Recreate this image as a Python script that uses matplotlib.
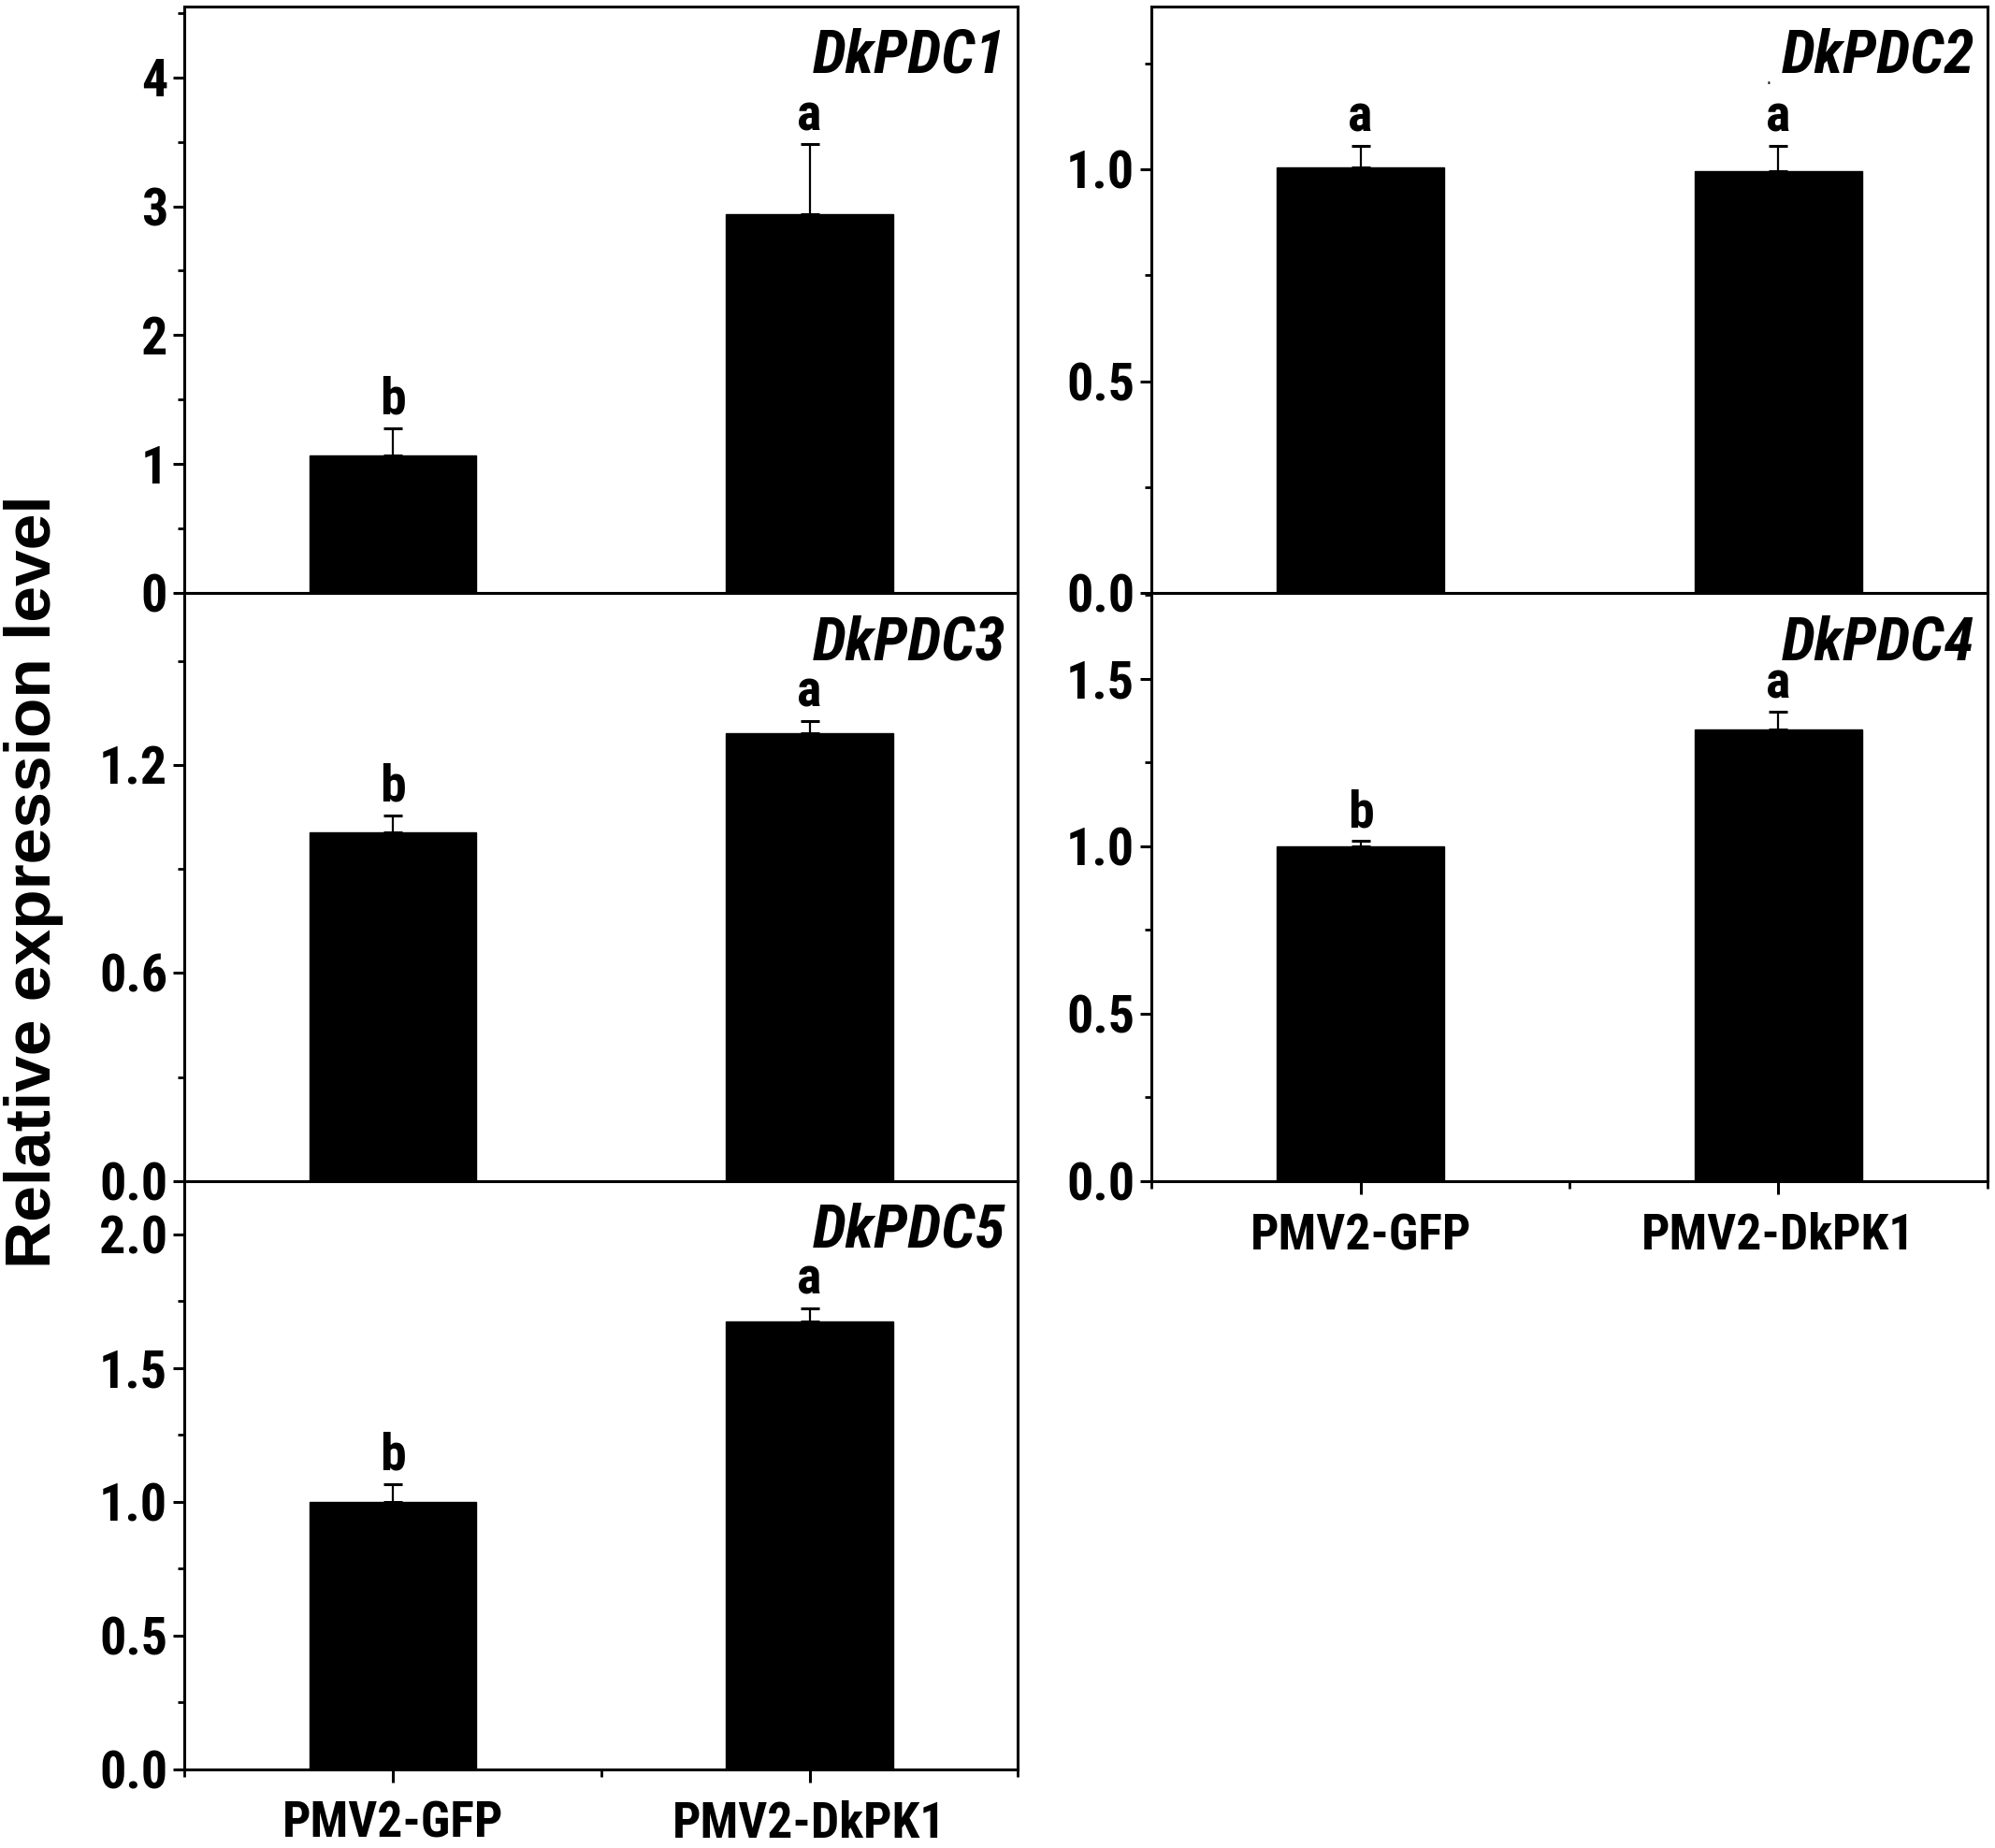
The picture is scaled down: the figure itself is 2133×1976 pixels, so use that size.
import matplotlib
matplotlib.use("Agg")
import matplotlib.pyplot as plt
from matplotlib.ticker import MultipleLocator, FixedLocator
from matplotlib import font_manager
from matplotlib.font_manager import FontProperties

# ---------------- data ----------------
categories = ["PMV2-GFP", "PMV2-DkPK1"]
genes = ["DkPDC1", "DkPDC2", "DkPDC3", "DkPDC4", "DkPDC5"]

pdc1_mean = [1.07, 2.94]
pdc1_err = [0.21, 0.54]
pdc1_sig = ["b", "a"]

pdc2_mean = [1.005, 0.995]
pdc2_err = [0.05, 0.06]
pdc2_sig = ["a", "a"]

pdc3_mean = [1.005, 1.292]
pdc3_err = [0.05, 0.035]
pdc3_sig = ["b", "a"]

pdc4_mean = [1.0, 1.348]
pdc4_err = [0.015, 0.052]
pdc4_sig = ["b", "a"]

pdc5_mean = [1.0, 1.676]
pdc5_err = [0.065, 0.047]
pdc5_sig = ["b", "a"]

ylims = {"DkPDC1": 4.55, "DkPDC2": 1.385, "DkPDC3": 1.695, "DkPDC4": 1.755, "DkPDC5": 2.2}
ymajor = {"DkPDC1": 1, "DkPDC2": 0.5, "DkPDC3": 0.6, "DkPDC4": 0.5, "DkPDC5": 0.5}
ymajor_fmt = {"DkPDC1": "{:.0f}", "DkPDC2": "{:.1f}", "DkPDC3": "{:.1f}", "DkPDC4": "{:.1f}", "DkPDC5": "{:.1f}"}

ylabel = "Relative expression level"

# ---------------- fonts ----------------
def find_condensed(italic):
    best = None
    for f in font_manager.fontManager.ttflist:
        key = (f.name + " " + f.fname).lower()
        cond = ("narrow" in key or "condensed" in key or
                f.stretch in ("condensed", "semi-condensed", "extra-condensed", "ultra-condensed"))
        if not cond:
            continue
        w = f.weight if isinstance(f.weight, int) else (700 if "bold" in str(f.weight) else 400)
        if w < 600:
            continue
        is_it = f.style in ("italic", "oblique")
        if is_it != italic:
            continue
        score = 0
        if "liberation" in key:
            score += 3
        if "roboto" in key:
            score += 2
        if best is None or score > best[0]:
            best = (score, f.fname)
    return best[1] if best else None

p_bold = find_condensed(False)
p_bi = find_condensed(True)
CONDENSED = p_bold is not None


def fp(size, italic=False):
    if italic and p_bi:
        return FontProperties(fname=p_bi, size=size)
    if not italic and p_bold:
        return FontProperties(fname=p_bold, size=size)
    return FontProperties(family=["Liberation Sans", "DejaVu Sans"], weight="bold",
                          style="italic" if italic else "normal", size=size)

k = 1.12 if CONDENSED else 1.0
TICK = 36 * k
XT = 34.5 * k
LET = 36 * k
GENE = 42 * k

# ---------------- figure ----------------
fig = plt.figure(figsize=(21.33, 19.76), dpi=100)

Lx0, Lx1 = 0.0925, 0.5102
Rx0, Rx1 = 0.5772, 0.9962
yb = [0.9966, 0.679, 0.3609, 0.0427]

panels = [
    ("DkPDC1", pdc1_mean, pdc1_err, pdc1_sig, [Lx0, yb[1], Lx1 - Lx0, yb[0] - yb[1]], False),
    ("DkPDC3", pdc3_mean, pdc3_err, pdc3_sig, [Lx0, yb[2], Lx1 - Lx0, yb[1] - yb[2]], False),
    ("DkPDC5", pdc5_mean, pdc5_err, pdc5_sig, [Lx0, yb[3], Lx1 - Lx0, yb[2] - yb[3]], True),
    ("DkPDC2", pdc2_mean, pdc2_err, pdc2_sig, [Rx0, yb[1], Rx1 - Rx0, yb[0] - yb[1]], False),
    ("DkPDC4", pdc4_mean, pdc4_err, pdc4_sig, [Rx0, yb[2], Rx1 - Rx0, yb[1] - yb[2]], True),
]

x = [1, 2]
for gene, mean, err, sig, rect, bottom in panels:
    ax = fig.add_axes(rect)
    ax.bar(x, mean, width=0.4, color="black", edgecolor="black", zorder=2)
    ax.errorbar(x, mean, yerr=[[0, 0], err], fmt="none", ecolor="black",
                elinewidth=1.6, capsize=7, capthick=2.2, zorder=3)
    for xi, m, e, s in zip(x, mean, err, sig):
        ax.annotate(s, (xi, m + e), xytext=(0, 11), textcoords="offset points",
                    ha="center", va="baseline", fontproperties=fp(LET))
    ax.set_xlim(0.5, 2.5)
    ax.set_ylim(0, ylims[gene])
    ax.yaxis.set_major_locator(MultipleLocator(ymajor[gene]))
    ax.yaxis.set_minor_locator(MultipleLocator(ymajor[gene] / 2))
    fmt = ymajor_fmt[gene]
    ax.yaxis.set_major_formatter(plt.FuncFormatter(lambda v, p, f=fmt: f.format(v)))
    for sp in ax.spines.values():
        sp.set_linewidth(2.2)
    ax.tick_params(axis="y", which="major", direction="out", length=9, width=2.2, pad=4)
    ax.tick_params(axis="y", which="minor", direction="out", length=5, width=2.0)
    for lab in ax.get_yticklabels():
        lab.set_fontproperties(fp(TICK))
    if bottom:
        ax.xaxis.set_major_locator(FixedLocator([1, 2]))
        ax.xaxis.set_minor_locator(FixedLocator([0.5, 1.5, 2.5]))
        ax.set_xticklabels(categories)
        ax.tick_params(axis="x", which="major", direction="out", length=10, width=2.2, pad=14)
        ax.tick_params(axis="x", which="minor", direction="out", length=6, width=2.0)
        for lab in ax.get_xticklabels():
            lab.set_fontproperties(fp(XT))
    else:
        ax.set_xticks([])
    ax.text(0.985, 0.915, gene, transform=ax.transAxes, ha="right", va="center",
            fontproperties=fp(GENE, italic=True))
    if gene == "DkPDC2":
        ax.text(1.976, 1.204, "a", ha="center", va="center", fontproperties=fp(4))

fig.text(0.017, 0.523, ylabel, rotation=90, ha="center", va="center",
         fontsize=50, fontweight="bold", family=["Liberation Sans", "DejaVu Sans"])

fig.savefig("out.png", dpi=100)
